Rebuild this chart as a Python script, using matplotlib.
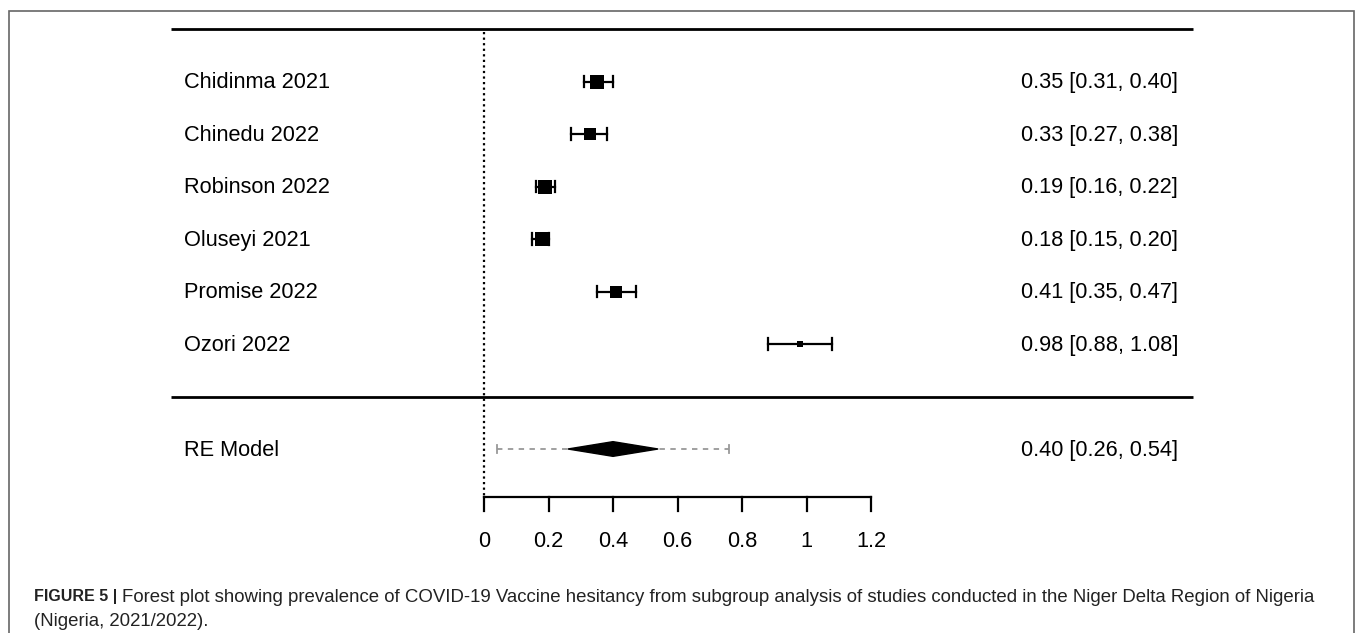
import matplotlib
matplotlib.use("Agg")
import matplotlib.pyplot as plt
from matplotlib.patches import Rectangle

plt.rcParams["font.family"] = ["Liberation Sans", "DejaVu Sans"]

# study data
studies = ["Chidinma 2021", "Chinedu 2022", "Robinson 2022", "Oluseyi 2021", "Promise 2022", "Ozori 2022"]
est = [0.35, 0.33, 0.19, 0.18, 0.41, 0.98]
lower = [0.31, 0.27, 0.16, 0.15, 0.35, 0.88]
upper = [0.40, 0.38, 0.22, 0.20, 0.47, 1.08]
weights = [17.5, 17.0, 19.5, 19.5, 17.0, 8.0]  # relative weight -> box size

# random effects summary
re_label = "RE Model"
re_est = 0.40
re_lower = 0.26
re_upper = 0.54
pi_lower = 0.04
pi_upper = 0.76

xticks = [0, 0.2, 0.4, 0.6, 0.8, 1, 1.2]

W, H = 1355, 633
fig = plt.figure(figsize=(W / 100, H / 100), dpi=100)
ax = fig.add_axes([0, 0, 1, 1])

# map pixels -> data: x 0 at px 484, 1.2 at px 871 ; rows 52.5 px apart, row 0 at px 29
x0, xs = 484, (871 - 484) / 1.2
y0, ys = 29, 52.5
ax.set_xlim((0 - x0) / xs, (W - x0) / xs)
ax.set_ylim((H - y0) / ys, (0 - y0) / ys)

def px(x):
    return (x - x0) / xs

FS = 15.7

rows = list(range(1, len(studies) + 1))
re_row = len(studies) + 2
axis_row = (497 - y0) / ys

# horizontal rules
for r in [0, len(studies) + 1]:
    ax.plot([px(171), px(1193)], [r, r], color="black", lw=2, solid_capstyle="butt")

# reference line at 0
ax.plot([0, 0], [0.05, axis_row], color="black", lw=1.6, ls=(0, (1, 1.5)))

# study rows
for r, name, e, lo, hi, w in zip(rows, studies, est, lower, upper, weights):
    ax.plot([lo, hi], [r, r], color="black", lw=1.6)
    for v in (lo, hi):
        ax.plot([v, v], [r - 0.11, r + 0.11], color="black", lw=1.6)
    ax.plot([e], [r], marker="s", color="black", ms=w * 0.55, mew=0)
    ax.text(px(184), r + 0.02, name, ha="left", va="center", fontsize=FS)
    ax.text(px(1178), r + 0.02, f"{e:.2f} [{lo:.2f}, {hi:.2f}]", ha="right", va="center", fontsize=FS)

# RE model
ax.plot([pi_lower, pi_upper], [re_row, re_row], color="#999999", lw=1.3, ls=(0, (3, 3)), zorder=2)
for v in (pi_lower, pi_upper):
    ax.plot([v, v], [re_row - 0.08, re_row + 0.08], color="#999999", lw=1.3)
ax.fill([re_lower, re_est, re_upper, re_est], [re_row, re_row - 0.14, re_row, re_row + 0.14],
        color="black", lw=1, zorder=3)
ax.text(px(184), re_row + 0.02, re_label, ha="left", va="center", fontsize=FS)
ax.text(px(1178), re_row + 0.02, f"{re_est:.2f} [{re_lower:.2f}, {re_upper:.2f}]",
        ha="right", va="center", fontsize=FS)

# bottom axis
ax.plot([xticks[0], xticks[-1]], [axis_row, axis_row], color="black", lw=1.6)
for t in xticks:
    ax.plot([t, t], [axis_row, axis_row + 14 / ys], color="black", lw=1.6)
    ax.text(t, axis_row + 44 / ys, f"{t:g}", ha="center", va="center", fontsize=FS)

ax.axis("off")

# figure frame
fig.add_artist(Rectangle((9 / W, -0.1), (W - 10) / W, (H - 11) / H + 0.1,
                         transform=fig.transFigure, fill=False, edgecolor="#666666", lw=1.2))

# caption
bold = fig.text(34 / W, 1 - 597 / H, "FIGURE 5 |", fontsize=11.5, fontweight="bold",
                va="center", color="#222222")
fig.canvas.draw()
bb = bold.get_window_extent()
fig.text((bb.x1 + 5) / W, 1 - 597 / H,
         "Forest plot showing prevalence of COVID-19 Vaccine hesitancy from subgroup analysis "
         "of studies conducted in the Niger Delta Region of Nigeria",
         fontsize=13.4, va="center", color="#222222")
fig.text(34 / W, 1 - 621 / H, "(Nigeria, 2021/2022).", fontsize=13.4, va="center", color="#222222")

fig.savefig("out.png", dpi=100)
